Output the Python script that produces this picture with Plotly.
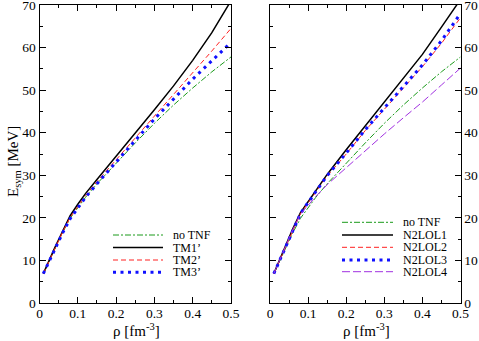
import plotly.graph_objects as go

# --- DATA ---
rho = [0.01, 0.02, 0.03, 0.04, 0.06, 0.08, 0.10, 0.12, 0.15, 0.20, 0.25, 0.30, 0.35, 0.40, 0.45, 0.50]

no_tnf = [6.9, 8.9, 10.9, 12.8, 16.5, 19.9, 22.5, 24.8, 28.0, 32.9, 37.6, 42.2, 46.5, 50.5, 54.3, 57.8]
tm1 = [6.9, 9.0, 11.0, 13.0, 16.8, 20.5, 23.2, 25.7, 29.0, 34.4, 39.9, 45.4, 51.0, 57.0, 63.5, 71.0]
tm2 = [6.9, 8.9, 10.9, 12.8, 16.6, 20.1, 22.8, 25.2, 28.5, 33.7, 38.8, 43.9, 49.0, 54.0, 59.2, 64.5]
tm3 = [6.9, 8.8, 10.8, 12.7, 16.4, 19.8, 22.4, 24.8, 28.0, 33.2, 38.2, 43.2, 48.0, 52.6, 56.9, 61.2]

n2lol1 = [6.9, 9.0, 11.2, 13.3, 17.5, 21.2, 23.8, 26.5, 30.2, 36.0, 41.6, 47.2, 52.8, 58.4, 64.8, 71.3]
n2lol2 = [6.9, 8.9, 11.1, 13.2, 17.3, 21.0, 23.5, 26.1, 29.8, 35.0, 40.5, 45.5, 50.5, 55.5, 61.0, 67.0]
n2lol3 = [6.9, 8.9, 11.1, 13.2, 17.3, 21.0, 23.6, 26.2, 29.9, 35.2, 40.7, 45.8, 50.8, 55.9, 61.6, 68.0]
n2lol4 = [6.9, 9.0, 11.1, 13.2, 17.3, 20.9, 23.0, 25.0, 27.8, 31.8, 35.8, 39.7, 43.5, 47.2, 51.2, 55.2]

left_labels = ["no TNF", "TM1\u2019", "TM2\u2019", "TM3\u2019"]
right_labels = ["no TNF", "N2LOL1", "N2LOL2", "N2LOL3", "N2LOL4"]

x_ticks = [0, 0.1, 0.2, 0.3, 0.4, 0.5]
y_ticks = [0, 10, 20, 30, 40, 50, 60, 70]

# --- STYLES ---
SERIF = "Liberation Serif, Times New Roman, serif"
styles = {
    "no TNF": dict(color="#1a9a1a", width=1, dash="6px,2px,2px,2px"),
    "TM1\u2019": dict(color="black", width=1.5),
    "TM2\u2019": dict(color="#ff2020", width=1, dash="5px,3px"),
    "TM3\u2019": dict(color="#1010ff", width=3, dash="3px,4.5px"),
    "N2LOL1": dict(color="black", width=1.5),
    "N2LOL2": dict(color="#ff2020", width=1, dash="5px,3px"),
    "N2LOL3": dict(color="#1010ff", width=3, dash="3px,4.5px"),
    "N2LOL4": dict(color="#a030e0", width=1, dash="8px,3px"),
}

W, H = 479, 341
T, B = 5, 38
PH = H - T - B

fig = go.Figure()

left_series = [no_tnf, tm1, tm2, tm3]
right_series = [no_tnf, n2lol1, n2lol2, n2lol3, n2lol4]

for name, ys in zip(left_labels, left_series):
    fig.add_trace(go.Scatter(x=rho, y=ys, mode="lines", line=styles[name],
                             xaxis="x", yaxis="y", showlegend=False))
for name, ys in zip(right_labels, right_series):
    fig.add_trace(go.Scatter(x=rho, y=ys, mode="lines", line=styles[name],
                             xaxis="x2", yaxis="y2", showlegend=False))

axis_common = dict(
    showgrid=False, zeroline=False, showline=True, linecolor="black", linewidth=1,
    mirror="allticks", ticks="inside", ticklen=6, tickcolor="black", automargin=False,
    ticklabeloverflow="allow",
    tickfont=dict(family=SERIF, size=13.5, color="black"),
)
x_minor = dict(dtick=0.05, ticks="inside", ticklen=3, tickcolor="black")
y_minor = dict(dtick=5, ticks="inside", ticklen=3, tickcolor="black")

fig.update_layout(
    width=W, height=H,
    margin=dict(l=0, r=0, t=T, b=B),
    plot_bgcolor="white", paper_bgcolor="white",
    xaxis=dict(domain=[39.5 / W, 231 / W], range=[0, 0.5], tickvals=x_ticks,
               minor=x_minor, ticklabelstandoff=-2, anchor="y", **axis_common),
    yaxis=dict(domain=[0, 1], range=[0, 70], tickvals=y_ticks,
               minor=y_minor, anchor="x", **axis_common),
    xaxis2=dict(domain=[270 / W, 460.5 / W], range=[0, 0.5], tickvals=x_ticks,
                minor=x_minor, ticklabelstandoff=-2, anchor="y2", **axis_common),
    yaxis2=dict(domain=[0, 1], range=[0, 70], tickvals=y_ticks, side="right",
                minor=y_minor, anchor="x2", **axis_common),
)


def py(ypix):
    return (H - B - ypix) / PH


# axis titles
fig.add_annotation(text="E<sub>sym</sub> [MeV]", xref="paper", yref="paper",
                   x=14 / W, y=py(162), textangle=-90, showarrow=False,
                   xanchor="center", yanchor="middle",
                   font=dict(family=SERIF, size=15, color="black"))
for cx in [136 / W, 366 / W]:
    fig.add_annotation(text="\u03c1 [fm<sup>-3</sup>]", xref="paper", yref="paper",
                       x=cx, y=py(330), showarrow=False,
                       xanchor="center", yanchor="middle",
                       font=dict(family=SERIF, size=15, color="black"))


# hand-made legends (tight row spacing like the original)
def add_legend(labels, rows, x0, x1, xt):
    for name, yr in zip(labels, rows):
        st = styles[name]
        fig.add_shape(type="line", xref="paper", yref="paper",
                      x0=x0 / W, x1=x1 / W, y0=py(yr), y1=py(yr),
                      line=dict(color=st["color"], width=st["width"], dash=st.get("dash", "solid")))
        fig.add_annotation(text=name, xref="paper", yref="paper", x=xt / W, y=py(yr),
                           xanchor="left", yanchor="middle", showarrow=False,
                           font=dict(family=SERIF, size=12, color="black"))


add_legend(left_labels, [235, 247.5, 260, 272.3], 113, 163, 171)
add_legend(right_labels, [222.3, 235, 247.3, 260, 271.7], 342, 393, 401)

# page body has a default 8px margin; drop it so the figure sits at the corner
fig.write_html("out.html", config={"displayModeBar": False},
               post_script="document.body.style.margin='0';")
